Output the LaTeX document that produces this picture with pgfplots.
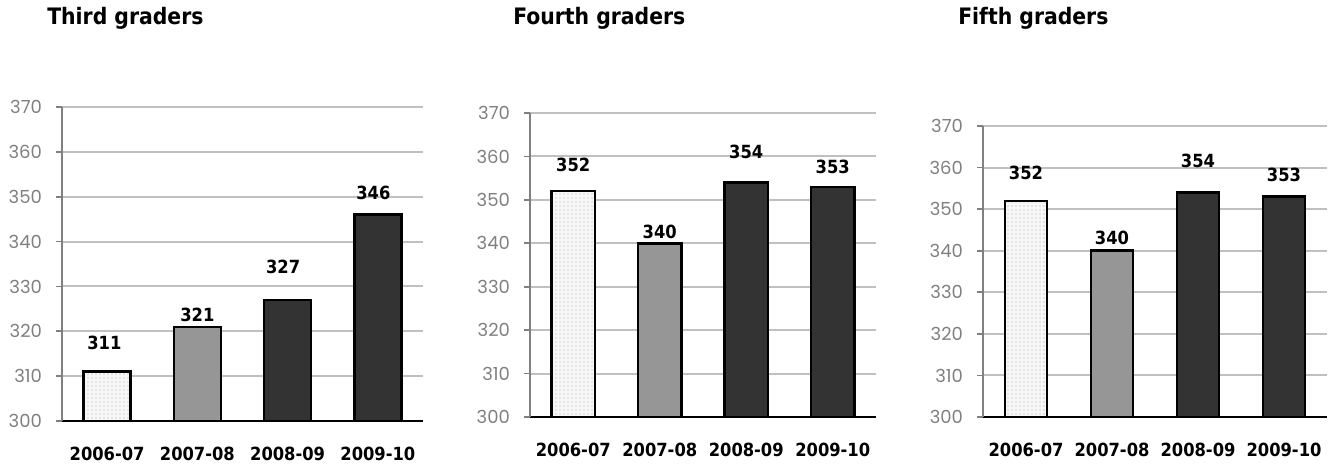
\documentclass[border=0pt]{standalone}
\usepackage{pgfplots}
\pgfplotsset{compat=1.18}
\usetikzlibrary{patterns}
\usepackage{fontspec}
\setmainfont{DejaVu Sans}
\newfontfamily\tickfont{Poppins}
\newfontfamily\labfont{DejaVu Sans Condensed}
\definecolor{gridc}{HTML}{C0C0C0}
\definecolor{ticktxt}{HTML}{808080}
\definecolor{midbar}{HTML}{969696}
\definecolor{darkbar}{HTML}{333333}
\pgfplotsset{
  gradestyle/.style={
    scale only axis,
    anchor=south west,
    xmin=-0.5, xmax=3.5, ymin=300, ymax=370,
    ytick={300,310,...,370},
    xtick={0,1,2,3},
    xticklabels={2006-07,2007-08,2008-09,2009-10},
    minor xtick={-0.5,0.5,1.5,2.5,3.5},
    tick align=outside,
    xtick style={draw=none},
    minor x tick style={black, line width=1.5pt},
    minor tick length=5.5pt,
    ytick style={ticktxt, line width=1.3pt},
    major tick length=4.5pt,
    ymajorgrids,
    grid style={gridc, line width=1.5pt},
    axis x line*=bottom, axis y line*=left,
    x axis line style={-, black, line width=1.6pt},
    y axis line style={-, ticktxt, line width=1.3pt},
    /pgf/number format/assume math mode=true,
    yticklabel style={font=\tickfont\fontsize{13.5}{14}\selectfont, text=ticktxt, anchor=east, xshift=-7pt},
    xticklabel style={font=\labfont\bfseries\fontsize{13.6}{14}\selectfont, anchor=north, yshift=-11.5pt},
  },
  b1/.style={ybar, bar shift=0pt, draw=black, line width=1.9pt, fill=gray!6, postaction={pattern=dots, pattern color=gray!70}},
  b2/.style={ybar, bar shift=0pt, draw=black, line width=1.9pt, fill=midbar},
  b3/.style={ybar, bar shift=0pt, draw=black, line width=1.9pt, fill=darkbar},
}
\newcommand{\vlab}[3]{\node[font=\labfont\bfseries\fontsize{13.6}{14}\selectfont] at (axis cs:#1,#2) {#3};}
\begin{document}
\begin{tikzpicture}
\useasboundingbox (0pt,0pt) rectangle (1005pt,352.5pt);
% titles
\node[anchor=west, font=\labfont\bfseries\fontsize{17}{18}\selectfont, inner sep=0pt] at (35.25pt,339pt) {Third graders};
\node[anchor=west, font=\labfont\bfseries\fontsize{17}{18}\selectfont, inner sep=0pt] at (384.75pt,339pt) {Fourth graders};
\node[anchor=west, font=\labfont\bfseries\fontsize{17}{18}\selectfont, inner sep=0pt] at (718.5pt,339pt) {Fifth graders};
% Panel 1
\begin{axis}[gradestyle, at={(46.5pt,36.75pt)}, width=270.75pt, height=235.5pt]
\addplot[b1, bar width=0.52] coordinates {(0,311)};
\addplot[b2, bar width=0.52] coordinates {(1,321)};
\addplot[b3, bar width=0.52] coordinates {(2,327)};
\addplot[b3, bar width=0.52] coordinates {(3,346)};
\vlab{-0.03}{317.4}{311}
\vlab{1}{323.6}{321}
\vlab{1.95}{334.4}{327}
\vlab{2.95}{350.8}{346}
\end{axis}
% Panel 2
\begin{axis}[gradestyle, at={(397.5pt,39.75pt)}, width=259.5pt, height=228pt]
\addplot[b1, bar width=0.5] coordinates {(0,352)};
\addplot[b2, bar width=0.5] coordinates {(1,340)};
\addplot[b3, bar width=0.5] coordinates {(2,354)};
\addplot[b3, bar width=0.5] coordinates {(3,353)};
\vlab{0}{358.0}{352}
\vlab{1}{342.7}{340}
\vlab{2}{361.1}{354}
\vlab{3}{357.6}{353}
\end{axis}
% Panel 3
\begin{axis}[gradestyle, at={(737.25pt,39.75pt)}, width=258pt, height=218.25pt]
\addplot[b1, bar width=0.49] coordinates {(0,352)};
\addplot[b2, bar width=0.49] coordinates {(1,340)};
\addplot[b3, bar width=0.49] coordinates {(2,354)};
\addplot[b3, bar width=0.49] coordinates {(3,353)};
\vlab{0}{358.6}{352}
\vlab{1}{343.0}{340}
\vlab{2}{361.6}{354}
\vlab{3}{358.2}{353}
\end{axis}
\end{tikzpicture}
\end{document}
